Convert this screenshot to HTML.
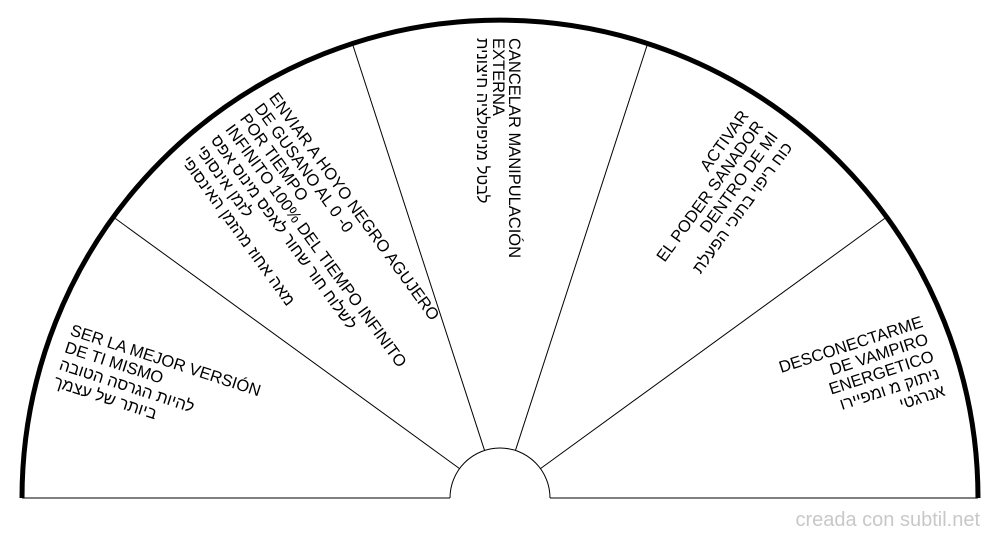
<!DOCTYPE html>
<html><head><meta charset="utf-8"><style>
html,body{margin:0;padding:0;background:#fff;}
svg{display:block;}
text{font-family:"Liberation Sans",DejaVu Sans,sans-serif;font-size:16.5px;fill:#000;}
</style></head><body>
<svg width="1000" height="540" viewBox="0 0 1000 540" xmlns="http://www.w3.org/2000/svg">
<g stroke="#000" fill="none">
<line x1="22" y1="498" x2="450" y2="498" stroke-width="1"/>
<line x1="550" y1="498" x2="978" y2="498" stroke-width="1"/>
<path d="M450 498 A50 50 0 0 1 550 498" stroke-width="1"/>
<path d="M22 498 A478 478 0 0 1 978 498" stroke-width="5"/>
<g transform="translate(500,498)" stroke-width="1">
<line x1="40.45" y1="-29.39" x2="386.7" y2="-281"/>
<line x1="15.45" y1="-47.55" x2="147.7" y2="-454.6"/>
<line x1="-15.45" y1="-47.55" x2="-147.7" y2="-454.6"/>
<line x1="-40.45" y1="-29.39" x2="-386.7" y2="-281"/>
</g>
</g>
<g transform="translate(500,498) rotate(-18)" text-anchor="end">
<text x="456" y="-32">DESCONECTARME</text>
<text x="456" y="-14">DE VAMPIRO</text>
<text x="456" y="4">ENERGETICO</text>
<text x="456" y="22">ניתוק מ ומפיירו</text>
<text x="456" y="40">אנרגטי</text>
</g>
<g transform="translate(500,498) rotate(-54)" text-anchor="end">
<text x="456" y="-23">ACTIVAR</text>
<text x="456" y="-5">EL PODER SANADOR</text>
<text x="456" y="13">DENTRO DE MI</text>
<text x="456" y="31">כוח ריפוי בתוכי הפעלת</text>
</g>
<g transform="translate(500,498) rotate(90)">
<text x="-460" y="-9">CANCELAR MANIPULACIÓN</text>
<text x="-460" y="7">EXTERNA</text>
<text x="-460" y="23">לבטל מניפולציה חיצונית</text>
</g>
<g transform="translate(500,498) rotate(54)">
<text x="-460" y="-48">ENVIAR A HOYO NEGRO AGUJERO</text>
<text x="-460" y="-30">DE GUSANO AL 0 -0</text>
<text x="-460" y="-12">POR TIEMPO</text>
<text x="-460" y="6">INFINITO 100% DEL TIEMPO INFINITO</text>
<text x="-460" y="24">לשלוח חור שחור לאפס מינוס אפס</text>
<text x="-460" y="42">לזמן אינסופי</text>
<text x="-460" y="60">מאה אחוז מהזמן האינסופי</text>
</g>
<g transform="translate(500,498) rotate(18)">
<text x="-460" y="-22">SER LA MEJOR VERSIÓN</text>
<text x="-460" y="-4">DE TI MISMO</text>
<text x="-460" y="14">להיות הגרסה הטובה</text>
<text x="-460" y="32">ביותר של עצמך</text>
</g>
<text x="980" y="526" text-anchor="end" style="fill:#c8c8c8;font-size:20px">creada con subtil.net</text>
</svg>
</body></html>
